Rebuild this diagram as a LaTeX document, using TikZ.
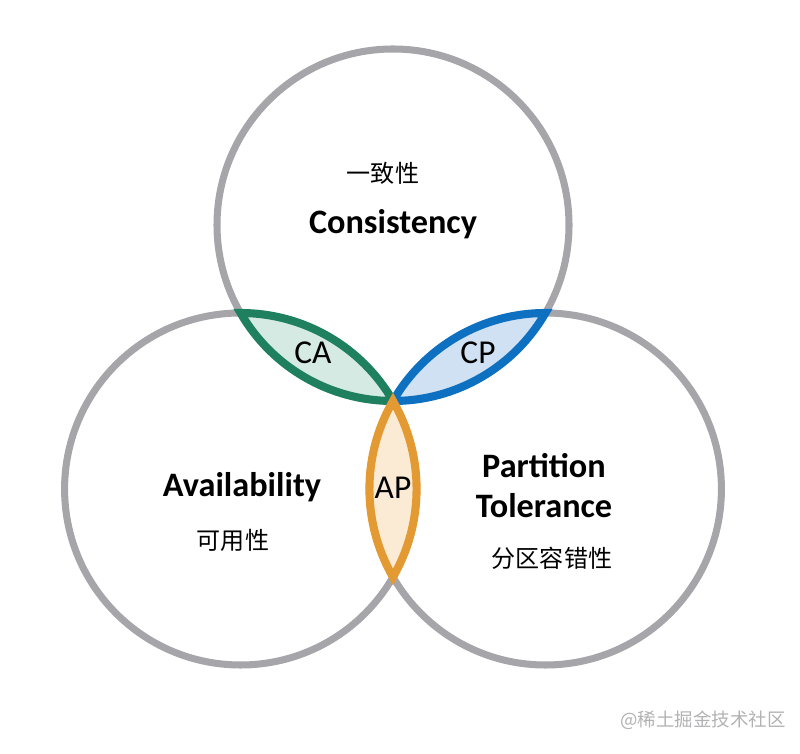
\documentclass[tikz,border=0pt]{standalone}
\usepackage{fontspec}
\setmainfont{Carlito}
\newfontfamily\cjkfont{Noto Sans CJK SC}
\usetikzlibrary{calc}

\definecolor{ringgray}{RGB}{165,165,170}
\definecolor{cagreen}{RGB}{31,128,96}
\definecolor{cafill}{RGB}{213,234,226}
\definecolor{cpblue}{RGB}{14,112,192}
\definecolor{cpfill}{RGB}{207,225,242}
\definecolor{apgold}{RGB}{228,154,50}
\definecolor{apfill}{RGB}{251,234,212}
\definecolor{markgray}{RGB}{178,178,180}

\begin{document}
\begin{tikzpicture}[x=0.02cm, y=0.02cm]
% Define styles
\tikzstyle{ring}=[draw=ringgray, line width=4pt]
\tikzstyle{lens}=[line width=4.6pt]
\tikzstyle{prop}=[font=\fontsize{19.5}{22.8}\selectfont\bfseries, align=center]
\tikzstyle{pair}=[font=\fontsize{19}{23}\selectfont]
\tikzstyle{cn}=[font=\cjkfont\fontsize{13.7}{16}\selectfont]

\useasboundingbox (0,0) rectangle (800,753);

% Common point of the three circles
\def\rad{176}
\coordinate (O) at (393,352);
\coordinate (ctop) at ($(O)+(90:\rad)$);
\coordinate (cleft) at ($(O)+(210:\rad)$);
\coordinate (cright) at ($(O)+(330:\rad)$);

% Circles
\draw[ring] (ctop) circle (\rad);
\draw[ring] (cleft) circle (\rad);
\draw[ring] (cright) circle (\rad);

% CA lens
\filldraw[lens, draw=cagreen, fill=cafill] ($(ctop)+(210:\rad)$)
  arc[start angle=210, end angle=270, radius=\rad]
  arc[start angle=30, end angle=90, radius=\rad] -- cycle;

% CP lens
\filldraw[lens, draw=cpblue, fill=cpfill] (O)
  arc[start angle=270, end angle=330, radius=\rad]
  arc[start angle=90, end angle=150, radius=\rad] -- cycle;

% AP lens
\filldraw[lens, draw=apgold, fill=apfill] (O)
  arc[start angle=30, end angle=-30, radius=\rad]
  arc[start angle=210, end angle=150, radius=\rad] -- cycle;

% Labels
\node[cn] (cname) at (383,580) {一致性};
\node[prop] (cons) at (393,529) {Consistency};
\node[prop] (avail) at (242,266) {Availability};
\node[cn] (aname) at (233,213) {可用性};
\node[prop] (part) at (544,267) {Partition\\Tolerance};
\node[cn] (pname) at (552,195) {分区容错性};

\node[pair] (ca) at (313,400) {CA};
\node[pair] (cp) at (478,400) {CP};
\node[pair] (ap) at (393,265) {AP};

% Watermark
\node[cn, text=markgray, font=\cjkfont\fontsize{10.5}{12}\selectfont] (mark) at (703,33) {@稀土掘金技术社区};

\end{tikzpicture}
\end{document}
